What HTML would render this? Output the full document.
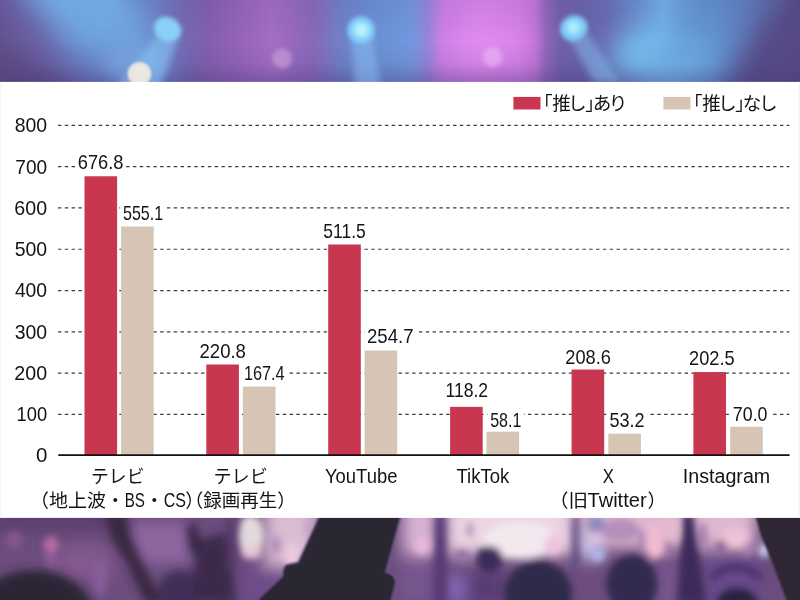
<!DOCTYPE html>
<html lang="ja"><head><meta charset="utf-8"><title>メディア別接触時間</title>
<style>
html,body{margin:0;padding:0;background:#5f5390;}
body{width:800px;height:600px;overflow:hidden;position:relative;font-family:"Liberation Sans", "Noto Sans CJK JP", sans-serif;}
svg{position:absolute;left:0;top:0;display:block;}
text{font-family:"Liberation Sans", "Noto Sans CJK JP", sans-serif;fill:#141414;}
.l{font-size:19.0px;}
.j{font-size:18.6px;}
</style></head><body>
<svg width="800" height="600" viewBox="0 0 800 600">
<defs>
<filter id="b1" x="-20%" y="-20%" width="140%" height="140%"><feGaussianBlur stdDeviation="1"/></filter>
<filter id="b3" x="-20%" y="-20%" width="140%" height="140%"><feGaussianBlur stdDeviation="2.2"/></filter>
<filter id="b5" x="-30%" y="-30%" width="160%" height="160%"><feGaussianBlur stdDeviation="3.5"/></filter>
<filter id="b6" x="-30%" y="-30%" width="160%" height="160%"><feGaussianBlur stdDeviation="5"/></filter>
<filter id="b9" x="-40%" y="-40%" width="180%" height="180%"><feGaussianBlur stdDeviation="8"/></filter>
<filter id="b14" x="-50%" y="-50%" width="200%" height="200%"><feGaussianBlur stdDeviation="14"/></filter>
<linearGradient id="tg" x1="0" x2="800" y1="0" y2="0" gradientUnits="userSpaceOnUse">
<stop offset="0" stop-color="#68589a"/>
<stop offset="0.05" stop-color="#6a62a6"/>
<stop offset="0.12" stop-color="#6c7cc0"/>
<stop offset="0.19" stop-color="#6c84c8"/>
<stop offset="0.235" stop-color="#7668b2"/>
<stop offset="0.26" stop-color="#8260ae"/>
<stop offset="0.29" stop-color="#9263b8"/>
<stop offset="0.34" stop-color="#a56dc6"/>
<stop offset="0.39" stop-color="#8a68b8"/>
<stop offset="0.43" stop-color="#6e84cc"/>
<stop offset="0.48" stop-color="#6a94d8"/>
<stop offset="0.515" stop-color="#7498e0"/>
<stop offset="0.535" stop-color="#9886dc"/>
<stop offset="0.553" stop-color="#cc80e6"/>
<stop offset="0.60" stop-color="#de87ee"/>
<stop offset="0.648" stop-color="#d680e8"/>
<stop offset="0.668" stop-color="#c478da"/>
<stop offset="0.682" stop-color="#9468bc"/>
<stop offset="0.70" stop-color="#7260aa"/>
<stop offset="0.72" stop-color="#6a62aa"/>
<stop offset="0.76" stop-color="#6a6eb4"/>
<stop offset="0.79" stop-color="#6a8ccc"/>
<stop offset="0.83" stop-color="#72b4ea"/>
<stop offset="0.89" stop-color="#6494d0"/>
<stop offset="0.95" stop-color="#5c5a9a"/>
<stop offset="1" stop-color="#554b80"/>
</linearGradient>
<linearGradient id="tv" x1="0" x2="0" y1="0" y2="82" gradientUnits="userSpaceOnUse">
<stop offset="0" stop-color="#4a3c80" stop-opacity="0.10"/>
<stop offset="0.5" stop-color="#4a3c80" stop-opacity="0"/>
<stop offset="0.78" stop-color="#463878" stop-opacity="0.10"/>
<stop offset="1" stop-color="#463878" stop-opacity="0.40"/>
</linearGradient>
<linearGradient id="bm" x1="0" x2="0" y1="0" y2="82" gradientUnits="userSpaceOnUse">
<stop offset="0" stop-color="#76baf0" stop-opacity="0.98"/>
<stop offset="0.45" stop-color="#70a8e4" stop-opacity="0.9"/>
<stop offset="1" stop-color="#6a88cc" stop-opacity="0.7"/>
</linearGradient>
<linearGradient id="lo" x1="0" x2="0" y1="552" y2="600" gradientUnits="userSpaceOnUse">
<stop offset="0" stop-color="#3c2a56" stop-opacity="0"/>
<stop offset="1" stop-color="#3c2a56" stop-opacity="0.42"/>
</linearGradient>
<clipPath id="ct"><rect x="0" y="0" width="800" height="82"/></clipPath>
<clipPath id="cb"><rect x="0" y="516" width="800" height="84"/></clipPath>
</defs>
<g clip-path="url(#ct)">
<rect x="0" y="0" width="800" height="82" fill="url(#tg)"/>
<g filter="url(#b14)">
<path d="M-40 10 L95 110 L-40 110Z" fill="#5e4b82"/>
<path d="M2 -30 L122 -30 L180 110 L128 110Z" fill="url(#bm)"/>
<ellipse cx="662" cy="60" rx="50" ry="30" fill="#78c4f4" opacity="0.92"/>
<path d="M700 -20 L790 -20 L712 64 L650 64Z" fill="#5e90d0" opacity="0.62"/>
<path d="M792 -10 L830 -10 L830 100 L722 100Z" fill="#564b84" opacity="0.92"/>
<ellipse cx="485" cy="46" rx="34" ry="24" fill="#e48ef4" opacity="0.6"/>
</g>
<rect x="0" y="0" width="800" height="82" fill="url(#tv)"/>
<ellipse cx="134" cy="64" rx="30" ry="20" fill="#7eaee8" opacity="0.55" filter="url(#b9)"/>
<g filter="url(#b5)">
<path d="M158 34 L178 40 L160 86 L118 86Z" fill="#86c2f2" opacity="0.6"/>
<path d="M351 36 L372 36 L381 86 L355 86Z" fill="#88bef2" opacity="0.55"/>
<path d="M568 36 L586 31 L620 82 L594 82Z" fill="#88c2f2" opacity="0.5"/>
</g>
<g filter="url(#b3)">
<ellipse cx="167.5" cy="29.4" rx="14.2" ry="12" transform="rotate(28 167.5 29.4)" fill="#8ad0f8"/>
<circle cx="361.2" cy="30" r="13.6" fill="#84d0fa"/>
<circle cx="361.5" cy="30" r="7" fill="#b8f2fa"/>
<ellipse cx="573.8" cy="28.2" rx="13.9" ry="12.6" transform="rotate(-25 573.8 28.2)" fill="#80ccf6"/>
<circle cx="573.5" cy="27.5" r="6.5" fill="#a8ecfc"/>
<circle cx="282" cy="58.5" r="10" fill="#c9a0d8" opacity="0.65"/>
<circle cx="492.5" cy="57" r="10" fill="#f2c8f6" opacity="0.5"/>
</g>
<circle cx="139.5" cy="73.8" r="12" fill="#d2d0d8" filter="url(#b1)"/>
<circle cx="139.5" cy="73.8" r="10.6" fill="#ebe7e1" filter="url(#b1)"/>
</g>
<g clip-path="url(#cb)">
<rect x="0" y="516" width="800" height="84" fill="#6c4d7d"/>
<g filter="url(#b9)">
<rect x="-10" y="508" width="125" height="24" fill="#5c3f6e"/>
<rect x="58" y="546" width="54" height="34" fill="#84588f"/>
<rect x="130" y="522" width="62" height="42" fill="#8d66a0"/>
<rect x="264" y="503" width="54" height="64" fill="#dabcd4"/>
<rect x="402" y="503" width="36" height="52" fill="#d8b2d2"/>
<rect x="446" y="500" width="128" height="55" fill="#ecd6e2"/>
<rect x="580" y="502" width="176" height="46" fill="#e0b8d0"/>
<ellipse cx="590" cy="546" rx="11" ry="16" fill="#d2caf0"/>
<ellipse cx="455" cy="589" rx="9" ry="14" fill="#8a70c6"/>
<rect x="238" y="566" width="46" height="40" fill="#6e4b8a"/>
<rect x="702" y="556" width="58" height="50" fill="#684a8b"/>
<rect x="652" y="562" width="30" height="44" fill="#78558f"/>
<rect x="468" y="574" width="36" height="30" fill="#563a74"/>
<rect x="400" y="562" width="34" height="40" fill="#775690"/>
</g>
<g filter="url(#b5)">
<ellipse cx="51" cy="545" rx="7.5" ry="9" fill="#bc6ea4" opacity="0.95"/>
<ellipse cx="51" cy="561" rx="7" ry="9" fill="#8e5e9a" opacity="0.8"/>
<ellipse cx="14" cy="540" rx="9" ry="9" fill="#8a5a90" opacity="0.8"/>
<ellipse cx="100" cy="580" rx="7" ry="18" fill="#8a62a4" opacity="0.7"/>
<ellipse cx="250.5" cy="536" rx="13.5" ry="21" fill="#e2dadd"/>
<ellipse cx="251" cy="552" rx="11" ry="7" fill="#e8c8d6"/>
<ellipse cx="292" cy="556" rx="8" ry="14" fill="#ecc8e0"/>
<ellipse cx="310" cy="527" rx="6" ry="8" fill="#c4a4c4"/>
<ellipse cx="276" cy="545" rx="5" ry="9" fill="#b48cb8"/>
<ellipse cx="422" cy="546" rx="8" ry="9" fill="#eab8dc"/>
<ellipse cx="520" cy="540" rx="36" ry="18" fill="#f3e8ee"/>
<ellipse cx="553" cy="545" rx="9" ry="10" fill="#eec4de"/>
<ellipse cx="470" cy="530" rx="3.5" ry="8" fill="#b494bc"/>
<ellipse cx="462" cy="556" rx="8" ry="6" fill="#9a70aa"/>
<ellipse cx="620" cy="530" rx="19" ry="12" fill="#b490ba"/>
<ellipse cx="642" cy="540" rx="3" ry="11" fill="#a47cb0"/>
<ellipse cx="667" cy="550" rx="4" ry="9" fill="#a078ae"/>
<ellipse cx="703" cy="536" rx="4.5" ry="14" fill="#a67eb2"/>
<ellipse cx="748" cy="548" rx="6" ry="7" fill="#a880b4"/>
<ellipse cx="655" cy="543" rx="9.5" ry="16" fill="#f0bcd0"/>
<ellipse cx="672" cy="530" rx="6" ry="12" fill="#e6bace"/>
<ellipse cx="735" cy="538" rx="14" ry="10" fill="#eec2d8"/>
<ellipse cx="722" cy="546" rx="5" ry="5" fill="#7a5690"/>
<ellipse cx="596" cy="524" rx="9" ry="8" fill="#8c8aba"/>
<ellipse cx="598" cy="555" rx="7" ry="7" fill="#b0b8f0"/>
<path d="M435 514 L445.5 514 L447.5 604 L432.5 604Z" fill="#5a3a76"/>
<circle cx="489.5" cy="559.5" r="13.5" fill="#3c2c5c"/>
<path d="M573 516 L578 516 L579 565 L572 565Z" fill="#5a4480"/>
<ellipse cx="538" cy="594" rx="34" ry="33" fill="#2e2a4a"/>
<ellipse cx="632" cy="584" rx="25.5" ry="29" fill="#322a50"/>
<path d="M683 514 L693.5 514 L706 604 L677 604Z" fill="#3c2c5c"/>
<ellipse cx="737" cy="606" rx="21" ry="18" fill="#2a2440"/>
<path d="M711 578 Q736 556 761 578" stroke="#48326e" stroke-width="7" fill="none"/>
<ellipse cx="764" cy="550.5" rx="4.5" ry="7" fill="#dce2ff"/>
</g>
<g filter="url(#b6)">
<ellipse cx="34" cy="612" rx="58" ry="42" fill="#2c2736"/>
<path d="M104 512 L126 512 L130 536 L144 566 L164 604 L146 604 L128 566 L112 540Z" fill="#38283f"/>
<ellipse cx="180" cy="590" rx="21" ry="20" fill="#402f58"/>
<path d="M196 540 L230 532 L236 604 L192 604Z" fill="#3c2c4c"/>
<path d="M187 524 L197 524 L200 552 L190 552Z" fill="#33243f"/>
<path d="M226 516 L236 516 L237 570 L228 570Z" fill="#563a6c"/>
</g>
<g filter="url(#b1)">
<path d="M320 514 L401.5 514 L386 572 Q395.5 574 396 583 L390.5 604 L256 604 L260 597 L282.5 576 Q282.5 566 286.5 564.5 L298 562Z" fill="#2b2833" stroke="#8c6cb4" stroke-opacity="0.5" stroke-width="1.5"/>
<path d="M755 514 L761 535.5 L770 556.5 L788 604 L802 604 L802 514Z" fill="#2e2834"/>
</g>
</g>

<rect x="0" y="81.9" width="800" height="436" fill="#fff"/>
<rect x="798.6" y="83" width="1.4" height="435" fill="#f3f3f5"/><rect x="0" y="83.5" width="0.9" height="434" fill="#f3f3f5"/>
<g stroke="#3c3c3c" stroke-width="1.2" stroke-dasharray="3.4 3.411" fill="none">
<path d="M58 414.37H789.4"/>
<path d="M58 373.09H789.4"/>
<path d="M58 331.81H789.4"/>
<path d="M58 290.53H789.4"/>
<path d="M58 249.25H789.4"/>
<path d="M58 207.97H789.4"/>
<path d="M58 166.69H789.4"/>
<path d="M58 125.41H789.4"/>
</g>
<g fill="#fff">
<rect x="75.3" y="151.0" width="50.8" height="21.0" rx="3"/>
<rect x="120.2" y="201.9" width="45.7" height="21.0" rx="3"/>
<rect x="197.1" y="340.4" width="51.5" height="21.0" rx="3"/>
<rect x="241.8" y="361.9" width="45.8" height="21.0" rx="3"/>
<rect x="320.6" y="220.1" width="47.8" height="21.0" rx="3"/>
<rect x="364.6" y="325.5" width="51.3" height="21.0" rx="3"/>
<rect x="443.4" y="379.6" width="47.3" height="21.0" rx="3"/>
<rect x="487.4" y="409.2" width="36.5" height="21.0" rx="3"/>
<rect x="562.9" y="346.8" width="50.7" height="21.0" rx="3"/>
<rect x="606.8" y="409.3" width="40.3" height="21.0" rx="3"/>
<rect x="686.6" y="347.7" width="50.6" height="21.0" rx="3"/>
<rect x="730.4" y="403.4" width="39.8" height="21.0" rx="3"/>
</g>
<g fill="#c8374f">
<rect x="84.50" y="176.27" width="32.60" height="279.38"/>
<rect x="206.30" y="364.50" width="32.60" height="91.15"/>
<rect x="328.20" y="244.50" width="32.60" height="211.15"/>
<rect x="450.10" y="406.86" width="32.60" height="48.79"/>
<rect x="571.60" y="369.54" width="32.60" height="86.11"/>
<rect x="693.40" y="372.06" width="32.60" height="83.59"/>
</g>
<g fill="#d6c5b5">
<rect x="121.10" y="226.50" width="32.60" height="229.15"/>
<rect x="242.90" y="386.55" width="32.60" height="69.10"/>
<rect x="364.60" y="350.51" width="32.60" height="105.14"/>
<rect x="486.50" y="431.67" width="32.60" height="23.98"/>
<rect x="608.30" y="433.69" width="32.60" height="21.96"/>
<rect x="730.20" y="426.75" width="32.60" height="28.90"/>
</g>
<path d="M58.3 455.1H789.6" stroke="#111" stroke-width="1.6" fill="none"/>
<rect x="513.4" y="96.9" width="27.1" height="12.6" fill="#c8374f"/>
<rect x="663.4" y="96.9" width="27.1" height="12.6" fill="#d6c5b5"/>
<g opacity="0.999">
<g>
<text class="l" transform="translate(35.99 461.90) scale(1.0778 1.04)">0</text>
<text class="l" transform="translate(16.56 421.27) scale(0.9627 1.04)">100</text>
<text class="l" transform="translate(14.37 379.99) scale(1.0333 1.04)">200</text>
<text class="l" transform="translate(14.63 338.71) scale(1.0248 1.04)">300</text>
<text class="l" transform="translate(14.89 297.43) scale(1.0164 1.04)">400</text>
<text class="l" transform="translate(14.63 256.15) scale(1.0248 1.04)">500</text>
<text class="l" transform="translate(14.37 214.87) scale(1.0333 1.04)">600</text>
<text class="l" transform="translate(15.30 173.59) scale(1.0033 1.04)">700</text>
<text class="l" transform="translate(14.63 132.31) scale(1.0248 1.04)">800</text>
</g>
<g>
<text class="l" transform="translate(77.74 168.60) scale(0.9617 1.04)">676.8</text>
<text class="l" transform="translate(122.97 219.50) scale(0.8457 1.04)">555.1</text>
<text class="l" transform="translate(199.52 358.00) scale(0.9770 1.04)">220.8</text>
<text class="l" transform="translate(243.91 379.50) scale(0.8571 1.04)">167.4</text>
<text class="l" transform="translate(323.31 237.70) scale(0.9213 1.04)">511.5</text>
<text class="l" transform="translate(367.02 343.10) scale(0.9780 1.04)">254.7</text>
<text class="l" transform="translate(445.41 397.20) scale(0.9257 1.04)">118.2</text>
<text class="l" transform="translate(490.17 426.80) scale(0.8426 1.04)">58.1</text>
<text class="l" transform="translate(565.34 364.40) scale(0.9596 1.04)">208.6</text>
<text class="l" transform="translate(609.49 426.90) scale(0.9504 1.04)">53.2</text>
<text class="l" transform="translate(689.04 365.30) scale(0.9574 1.04)">202.5</text>
<text class="l" transform="translate(732.86 421.00) scale(0.9362 1.04)">70.0</text>
</g>
<g>
<text class="j" y="109.6" x="533.88 552.17 567.98 585.27 592.67 608.73">「推し」あり</text>
<text class="j" y="109.6" x="683.88 702.17 717.98 735.27 742.70 758.88">「推し」なし</text>
</g>
<g><text class="j" transform="translate(91.08 483.25) scale(0.9571 1)">テレビ</text><text class="j" transform="translate(29.95 506.60) scale(1.0230 1)">（地上波</text><text class="j" transform="translate(105.92 506.60) scale(1.0000 1)">・</text><text class="l" transform="translate(124.70 506.50) scale(0.7978 1.05)">BS</text><text class="j" transform="translate(145.00 506.60) scale(1.0000 1)">・</text><text class="l" transform="translate(163.76 506.50) scale(0.8449 1.05)">CS</text><text class="j" transform="translate(185.25 506.60) scale(1.0000 1)">）</text></g>
<g><text class="j" transform="translate(213.50 483.25) scale(0.9733 1)">テレビ</text><text class="j" transform="translate(184.81 506.60) scale(0.9953 1)">（録画再生）</text></g>
<g><text class="l" transform="translate(325.01 483.10) scale(0.9706 1.05)">YouTube</text></g>
<g><text class="l" transform="translate(456.41 483.10) scale(0.9757 1.05)">TikTok</text></g>
<g><text class="l" transform="translate(602.86 482.80) scale(0.8851 1.05)">X</text><text class="j" transform="translate(548.93 507.40) scale(1.0517 1)">（旧</text><text class="l" transform="translate(587.47 507.30) scale(1.0588 1.05)">Twitter</text><text class="j" transform="translate(647.40 507.40) scale(1.0000 1)">）</text></g>
<g><text class="l" transform="translate(682.79 482.70) scale(1.0356 1.05)">Instagram</text></g>
</g>
</svg></body></html>
